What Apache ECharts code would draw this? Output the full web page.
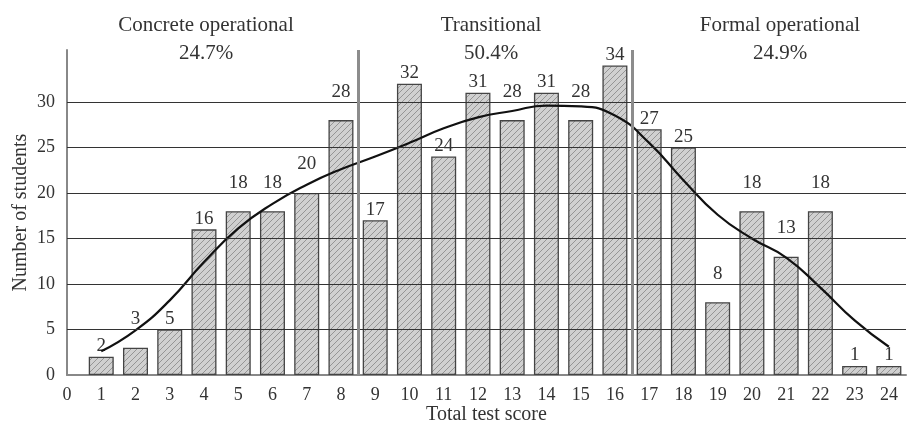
<!DOCTYPE html>
<html>
<head>
<meta charset="utf-8">
<script src="https://cdn.jsdelivr.net/npm/echarts@6/dist/echarts.min.js"></script>
<style>
  html, body { margin: 0; padding: 0; background: #fff; }
  #chart { width: 916px; height: 424px; }
</style>
</head>
<body>
<div id="chart"></div>
<script>
// data
var scores = [1, 2, 3, 4, 5, 6, 7, 8, 9, 10, 11, 12, 13, 14, 15, 16, 17, 18, 19, 20, 21, 22, 23, 24];
var students = [2, 3, 5, 16, 18, 18, 20, 28, 17, 32, 24, 31, 28, 31, 28, 34, 27, 25, 8, 18, 13, 18, 1, 1];
var curve = [2.6, 4.9, 8.2, 12.4, 16.1, 18.8, 20.9, 22.6, 24.0, 25.5, 27.1, 28.3, 29.0, 29.6, 29.5, 28.5, 25.5, 21.4, 17.6, 15.0, 12.9, 9.6, 6.0, 3.1];
var stageNames = ['Concrete operational', 'Transitional', 'Formal operational'];
var stagePercents = ['24.7%', '50.4%', '24.9%'];
var stageBounds = [8.5, 16.5];
var yTicks = [5, 10, 15, 20, 25, 30];

// bars whose label sits higher (above the curve)
var raisedLabels = [2, 5, 6, 7, 8, 13, 15, 19, 20, 21, 22];

var font = 'Liberation Serif';
var chart = echarts.init(document.getElementById('chart'));

// hatched fill for the bars
var hatch = document.createElement('canvas');
hatch.width = 6; hatch.height = 6;
var ctx = hatch.getContext('2d');
ctx.fillStyle = '#d0d0d0';
ctx.fillRect(0, 0, 6, 6);
ctx.strokeStyle = '#959595';
ctx.lineWidth = 1;
ctx.beginPath();
ctx.moveTo(0, 6); ctx.lineTo(6, 0);
ctx.moveTo(-3, 3); ctx.lineTo(3, -3);
ctx.moveTo(3, 9); ctx.lineTo(9, 3);
ctx.stroke();

var barData = scores.map(function (s, i) {
    var item = { value: [s, students[i]] };
    if (raisedLabels.indexOf(s) >= 0) {
        item.label = { distance: 19 };
    }
    return item;
});

// horizontal grid lines and stage separators, drawn over the bars
var gridLines = yTicks.map(function (v) {
    return { yAxis: v, lineStyle: { color: '#333', width: 1.2, type: 'solid' } };
});
var sepLines = stageBounds.map(function (v) {
    return { xAxis: v, lineStyle: { color: '#8c8c8c', width: 3, type: 'solid' } };
});

// stage headings
var stageCenters = [206, 491, 780];
var graphics = stageNames.map(function (n, i) {
    return {
        type: 'text', x: stageCenters[i], y: 11,
        style: { text: n + '\n' + stagePercents[i], font: '21px ' + font, fill: '#333',
                 align: 'center', lineHeight: 28 }
    };
});

chart.setOption({
    animation: false,
    backgroundColor: '#fff',
    textStyle: { fontFamily: font },
    graphic: graphics,
    grid: {
        left: 67,
        right: 10,
        top: 50,
        bottom: 49,
        outerBoundsMode: 'none'
    },
    xAxis: {
        type: 'value',
        min: 0,
        max: 24.5,
        interval: 1,
        name: 'Total test score',
        nameLocation: 'middle',
        nameGap: 30,
        nameMoveOverlap: false,
        nameTextStyle: { fontFamily: font, fontSize: 20, color: '#333' },
        axisLine: { lineStyle: { color: '#888', width: 2 } },
        axisTick: { show: false },
        splitLine: { show: false },
        axisLabel: {
            showMaxLabel: false,
            margin: 11,
            fontFamily: font, fontSize: 18, color: '#333'
        }
    },
    yAxis: {
        type: 'value',
        min: 0,
        max: 35.7,
        interval: 5,
        name: 'Number of students',
        nameLocation: 'middle',
        nameGap: 36,
        nameMoveOverlap: false,
        nameTextStyle: { fontFamily: font, fontSize: 20, color: '#333' },
        axisLine: { show: true, lineStyle: { color: '#888', width: 2 } },
        axisTick: { show: false },
        splitLine: { show: false },
        axisLabel: {
            showMaxLabel: false,
            margin: 12,
            fontFamily: font, fontSize: 18, color: '#333',
            formatter: function (v) { return v > 30 ? '' : v; }
        }
    },
    series: [
        {
            name: 'Students',
            type: 'bar',
            barWidth: 25,
            data: barData,
            itemStyle: {
                color: { image: hatch, repeat: 'repeat' },
                borderColor: '#444',
                borderWidth: 1.3
            },
            label: {
                show: true,
                position: 'top',
                distance: 1,
                fontFamily: font,
                fontSize: 19,
                color: '#333'
            }
        },
        {
            name: 'Curve',
            type: 'line',
            smooth: 0.5,
            symbol: 'none',
            data: scores.map(function (s, i) { return [s, curve[i]]; }),
            lineStyle: { color: '#111', width: 2.2 },
            markLine: {
                silent: true,
                symbol: 'none',
                label: { show: false },
                data: gridLines.concat(sepLines)
            }
        }
    ]
});
</script>
</body>
</html>
